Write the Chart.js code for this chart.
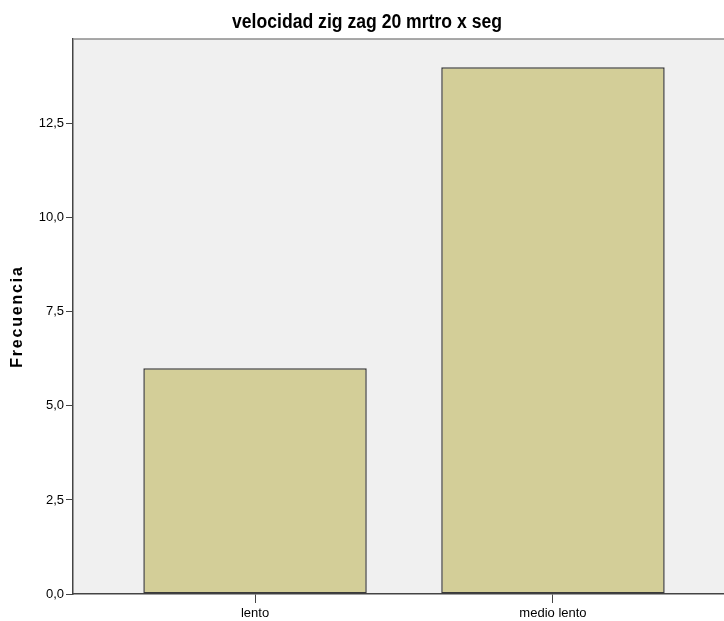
<!DOCTYPE html>
<html>
<head>
<meta charset="utf-8">
<script src="https://cdn.jsdelivr.net/npm/chart.js@4"></script>
<style>
html,body{margin:0;padding:0;background:#fff;overflow:hidden;}
canvas{display:block;}
</style>
</head>
<body>
<canvas id="c" width="740" height="621"></canvas>
<script>
const categories = ['lento', 'medio lento'];
const frecuencias = [6, 14];
const chartTitle = 'velocidad zig zag 20 mrtro x seg';
const yTitle = 'Frecuencia';
const yMax = 14.75;
const yStep = 2.5;

const points = categories.map((c, i) => ({ x: i, y: frecuencias[i] }));

const decor = {
  id: 'decor',
  beforeDraw(chart) {
    const { ctx, chartArea: a } = chart;
    ctx.save();
    ctx.fillStyle = '#f0f0f0';
    ctx.fillRect(a.left, a.top, a.right - a.left, a.bottom - a.top);
    ctx.restore();
  },
  afterDraw(chart) {
    const { ctx, chartArea: a } = chart;
    ctx.save();
    ctx.strokeStyle = '#8c8c8c';
    ctx.lineWidth = 1.5;
    ctx.beginPath();
    ctx.moveTo(a.left, a.top);
    ctx.lineTo(a.right + 10, a.top);
    ctx.stroke();
    ctx.fillStyle = '#000';
    ctx.font = 'bold 20px "Liberation Sans", Arial, sans-serif';
    ctx.textAlign = 'center';
    ctx.textBaseline = 'middle';
    ctx.translate(367, 22);
    ctx.scale(0.88, 1);
    ctx.fillText(chartTitle, 0, 0);
    ctx.restore();
    ctx.save();
    ctx.fillStyle = '#000';
    ctx.font = 'bold 16px "Liberation Sans", Arial, sans-serif';
    ctx.letterSpacing = '1.8px';
    ctx.textAlign = 'center';
    ctx.textBaseline = 'middle';
    ctx.translate(18, (a.top + a.bottom) / 2);
    ctx.rotate(-Math.PI / 2);
    ctx.fillText(yTitle, 0, 0);
    ctx.restore();
  }
};

const tickFont = { family: '"Liberation Sans", Arial, sans-serif', size: 13 };

new Chart(document.getElementById('c'), {
  type: 'bar',
  data: {
    datasets: [{
      data: points,
      backgroundColor: '#d3ce98',
      borderColor: '#3a3a3a',
      borderWidth: 1.5,
      borderSkipped: false,
      barPercentage: 0.75,
      categoryPercentage: 1
    }]
  },
  options: {
    responsive: false,
    animation: false,
    layout: { padding: { left: 0, right: 5, top: 39, bottom: 0 } },
    plugins: {
      legend: { display: false },
      tooltip: { enabled: false },
      title: { display: false }
    },
    scales: {
      x: {
        type: 'linear',
        offset: false,
        min: -0.611,
        max: 1.611,
        afterBuildTicks(scale) { scale.ticks = categories.map((c, i) => ({ value: i })); },
        afterFit(scale) { scale.height = 27; },
        ticks: {
          color: '#000',
          font: tickFont,
          padding: 3,
          autoSkip: false,
          maxRotation: 0,
          callback: (v) => categories[v] ?? ''
        },
        grid: { display: true, offset: false, drawOnChartArea: false, drawTicks: true, tickLength: 9, color: '#444', tickWidth: 1 },
        border: { display: true, color: '#444', width: 1.5 }
      },
      y: {
        min: 0,
        max: yMax,
        afterBuildTicks(scale) {
          const t = [];
          for (let v = 0; v <= yMax + 1e-9; v += yStep) t.push({ value: v });
          scale.ticks = t;
        },
        afterFit(scale) { scale.width = 73; },
        ticks: {
          color: '#000',
          font: tickFont,
          padding: 2,
          callback: (v) => v.toFixed(1).replace('.', ',')
        },
        grid: { display: true, drawOnChartArea: false, drawTicks: true, tickLength: 7, color: '#444', tickWidth: 1 },
        border: { display: true, color: '#444', width: 1.5 }
      }
    }
  },
  plugins: [decor]
});
</script>
</body>
</html>
